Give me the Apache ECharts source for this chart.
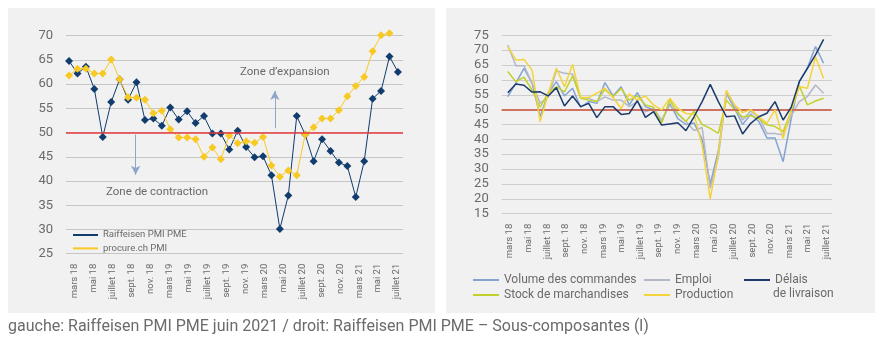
<!DOCTYPE html>
<html>
<head>
<meta charset="utf-8">
<script src="https://cdn.jsdelivr.net/npm/echarts@6/dist/echarts.min.js"></script>
<style>
  html, body { margin: 0; padding: 0; background: #ffffff; }
  #chart { width: 882px; height: 347px; }
</style>
</head>
<body>
<div id="chart"></div>
<script>
// Axis tick labels (every second month)
const tickLabels = ['mars 18','mai 18','juillet 18','sept. 18','nov. 18','mars 19','mai 19','juillet 19','sept. 19','nov. 19','mars 20','mai 20','juillet 20','sept. 20','nov. 20','mars 21','mai 21','juillet 21'];

// Monthly readings, March 2018 - June 2021
const raiffeisenPmi = [64.8, 62.2, 63.6, 59.0, 49.1, 56.3, 61.0, 56.8, 60.4, 52.6, 52.9, 51.4, 55.2, 52.7, 54.4, 52.0, 53.4, 49.8, 49.8, 46.5, 50.4, 47.0, 44.9, 45.1, 41.2, 30.1, 37.0, 53.4, 49.6, 44.1, 48.6, 46.2, 43.8, 43.1, 36.7, 44.1, 57.0, 58.6, 65.7, 62.5];
const procurePmi    = [61.8, 63.2, 63.2, 62.2, 62.2, 65.1, 61.0, 57.3, 57.2, 56.8, 54.0, 54.5, 50.7, 49.0, 49.0, 48.6, 45.0, 46.9, 44.5, 49.4, 47.8, 48.2, 47.9, 49.1, 43.2, 40.9, 42.2, 41.2, 49.6, 51.1, 52.9, 52.9, 54.6, 57.5, 59.6, 61.5, 66.8, 70.1, 70.5];

// Sub-components
const volumeCommandes = [54.4, 58.9, 63.9, 58.9, 47.7, 55.5, 59.4, 54.6, 57.2, 50.8, 52.7, 52.1, 59.1, 54.6, 57.7, 51.6, 55.7, 51.0, 49.9, 46.0, 52.0, 47.0, 45.0, 45.5, 40.0, 25.0, 36.0, 55.5, 50.5, 45.0, 48.5, 46.0, 40.5, 40.5, 32.5, 47.0, 59.5, 64.0, 71.2, 65.6];
const emploi          = [71.7, 64.8, 64.8, 58.9, 52.1, 54.3, 63.1, 62.2, 62.0, 54.1, 53.8, 52.7, 54.3, 53.2, 53.2, 51.0, 52.7, 49.3, 50.4, 46.5, 51.5, 48.5, 46.0, 43.0, 44.0, 23.5, 34.0, 56.0, 51.5, 46.5, 49.5, 47.5, 42.0, 42.0, 41.5, 48.0, 52.7, 54.4, 58.3, 55.5];
const delaisLivraison = [55.7, 58.6, 58.2, 55.9, 56.0, 54.6, 57.4, 51.2, 54.6, 51.0, 52.1, 47.3, 51.0, 51.0, 48.4, 48.7, 53.0, 47.4, 49.3, 44.8, 45.2, 45.6, 42.9, 47.6, 52.7, 58.5, 52.7, 47.6, 47.9, 41.8, 45.4, 47.6, 48.8, 52.7, 46.5, 50.8, 59.4, 63.9, 68.4, 73.6];
const stockMarchandises = [62.8, 59.4, 60.9, 56.6, 50.8, 55.7, 57.7, 56.0, 61.3, 53.8, 53.2, 52.7, 56.8, 54.3, 57.1, 53.2, 54.6, 51.6, 50.8, 45.4, 53.3, 48.7, 46.0, 49.5, 45.0, 43.7, 42.0, 53.2, 50.0, 47.5, 48.0, 47.0, 44.9, 44.3, 42.6, 49.5, 58.0, 51.6, 52.9, 53.8];
const production      = [71.2, 66.7, 66.9, 63.3, 46.0, 55.5, 63.9, 57.7, 65.2, 54.1, 54.1, 55.5, 57.2, 54.1, 50.4, 55.2, 53.2, 54.6, 51.6, 49.9, 53.8, 50.4, 48.7, 48.5, 38.0, 20.0, 35.0, 56.5, 51.6, 49.0, 50.0, 47.6, 45.4, 49.9, 40.3, 50.0, 57.7, 57.2, 67.8, 60.5];

const threshold = 50;

const FONT = 'Roboto, "Open Sans", sans-serif';
const TEXT = '#6a6a6a';
const NAVY = '#103c6e';
const YELLOW = '#f8c923';

const indexed = arr => arr.map((v, i) => [i, v]);

const chart = echarts.init(document.getElementById('chart'), null, { renderer: 'canvas' });

const labelAxis = (gridIndex) => ({
  type: 'category', gridIndex, data: tickLabels, boundaryGap: true, position: 'bottom',
  axisLine: { show: false }, axisTick: { show: false }, splitLine: { show: false },
  axisLabel: { interval: 0, rotate: 90, margin: 10, color: TEXT, fontFamily: FONT, fontSize: 9.5 }
});

const subLine = (name, data, color, z) => ({
  name, type: 'line', xAxisIndex: 2, yAxisIndex: 2, data: indexed(data),
  showSymbol: false, symbol: 'none', z, clip: false,
  lineStyle: { color, width: 1.5 }, itemStyle: { color }, animation: false
});

chart.setOption({
  backgroundColor: '#ffffff',
  animation: false,
  textStyle: { fontFamily: FONT },
  graphic: [
    { type: 'rect', z: -10, shape: { x: 8, y: 8, width: 427, height: 305 }, style: { fill: '#f1f1f1' } },
    { type: 'rect', z: -10, shape: { x: 446, y: 8, width: 429, height: 305 }, style: { fill: '#f1f1f1' } },
    { type: 'text', left: 240, top: 66, style: { text: 'Zone d’expansion', fill: TEXT, font: '11.5px ' + FONT } },
    { type: 'text', left: 106, top: 186, style: { text: 'Zone de contraction', fill: TEXT, font: '11.5px ' + FONT } },
    { type: 'text', left: 773, top: 288, style: { text: 'de livraison', fill: TEXT, font: '12px ' + FONT } },
    { type: 'text', left: 8, top: 319, style: { text: 'gauche: Raiffeisen PMI PME juin 2021 / droit: Raiffeisen PMI PME – Sous-composantes (l)', fill: '#6b6b6b', font: '16px ' + FONT } }
  ],
  grid: [
    { left: 66, top: 35.7, width: 337, height: 218 },
    { left: 65.5, top: 35.7, width: 341, height: 218 },
    { left: 501.7, top: 35.3, width: 330, height: 178.4 },
    { left: 500.7, top: 35.3, width: 335.3, height: 178.4 }
  ],
  xAxis: [
    { type: 'value', gridIndex: 0, min: -0.36, max: 39.6, show: false },
    labelAxis(1),
    { type: 'value', gridIndex: 2, min: -0.75, max: 40, show: false },
    labelAxis(3)
  ],
  yAxis: [
    { type: 'value', gridIndex: 0, min: 25, max: 70, interval: 5,
      axisLine: { show: false }, axisTick: { show: false },
      splitLine: { lineStyle: { color: '#c6c6c6', width: 1 } },
      axisLabel: { color: TEXT, fontFamily: FONT, fontSize: 13, margin: 13 } },
    { type: 'value', gridIndex: 1, min: 0, max: 1, show: false },
    { type: 'value', gridIndex: 2, min: 15, max: 75, interval: 5,
      axisLine: { show: false }, axisTick: { show: false },
      splitLine: { lineStyle: { color: '#cdcdcd', width: 1 } },
      axisLabel: { color: TEXT, fontFamily: FONT, fontSize: 13, margin: 13, padding: [0, 0, 6, 0] } },
    { type: 'value', gridIndex: 3, min: 0, max: 1, show: false }
  ],
  legend: [
    { orient: 'vertical', left: 73, top: 229, padding: 0, itemGap: 1.4,
      icon: 'rect', itemWidth: 25, itemHeight: 2,
      textStyle: { color: TEXT, fontFamily: FONT, fontSize: 9.5, lineHeight: 12 },
      data: ['Raiffeisen PMI PME', 'procure.ch PMI'] },
    { orient: 'vertical', left: 473, top: 273, padding: 0, itemGap: 1,
      icon: 'rect', itemWidth: 26, itemHeight: 2,
      textStyle: { color: TEXT, fontFamily: FONT, fontSize: 12, lineHeight: 14 },
      data: ['Volume des commandes', 'Stock de marchandises'] },
    { orient: 'vertical', left: 644, top: 273, padding: 0, itemGap: 1,
      icon: 'rect', itemWidth: 26, itemHeight: 2,
      textStyle: { color: TEXT, fontFamily: FONT, fontSize: 12, lineHeight: 14 },
      data: ['Emploi', 'Production'] },
    { orient: 'vertical', left: 744, top: 273, padding: 0, itemGap: 1,
      icon: 'rect', itemWidth: 26, itemHeight: 2,
      textStyle: { color: TEXT, fontFamily: FONT, fontSize: 12, lineHeight: 14 },
      data: ['Délais'] }
  ],
  series: [
    {
      name: 'Raiffeisen PMI PME', type: 'line', xAxisIndex: 0, yAxisIndex: 0, clip: false,
      data: indexed(raiffeisenPmi), symbol: 'diamond', symbolSize: 8, z: 3,
      lineStyle: { color: NAVY, width: 1 }, itemStyle: { color: NAVY },
      markLine: {
        silent: true, symbol: 'none', label: { show: false },
        data: [
          { yAxis: threshold, lineStyle: { color: '#e53a3f', width: 1.5, type: 'solid' } },
          [ { coord: [24.4, 50.9], symbol: 'none' },
            { coord: [24.4, 58.6], symbol: 'arrow', symbolSize: [7, 9] } ],
          [ { coord: [7.9, 49.6], symbol: 'none' },
            { coord: [7.9, 41.3], symbol: 'arrow', symbolSize: [7, 9] } ]
        ],
        lineStyle: { color: '#8ea6c9', width: 1, type: 'solid' }
      }
    },
    {
      name: 'procure.ch PMI', type: 'line', xAxisIndex: 0, yAxisIndex: 0, clip: false,
      data: indexed(procurePmi), symbol: 'diamond', symbolSize: 8, z: 4,
      lineStyle: { color: YELLOW, width: 1 }, itemStyle: { color: YELLOW }
    },
    subLine('Volume des commandes', volumeCommandes, '#84a3d3', 3),
    subLine('Emploi', emploi, '#b3b8c9', 3),
    subLine('Stock de marchandises', stockMarchandises, '#c3d12f', 4),
    subLine('Production', production, '#f4d43a', 5),
    Object.assign(subLine('Délais', delaisLivraison, '#1c3a6b', 6), {
      markLine: {
        silent: true, symbol: 'none', label: { show: false },
        data: [ { yAxis: threshold } ],
        lineStyle: { color: '#cf7260', width: 2, type: 'solid' }
      }
    })
  ]
});
</script>
</body>
</html>
